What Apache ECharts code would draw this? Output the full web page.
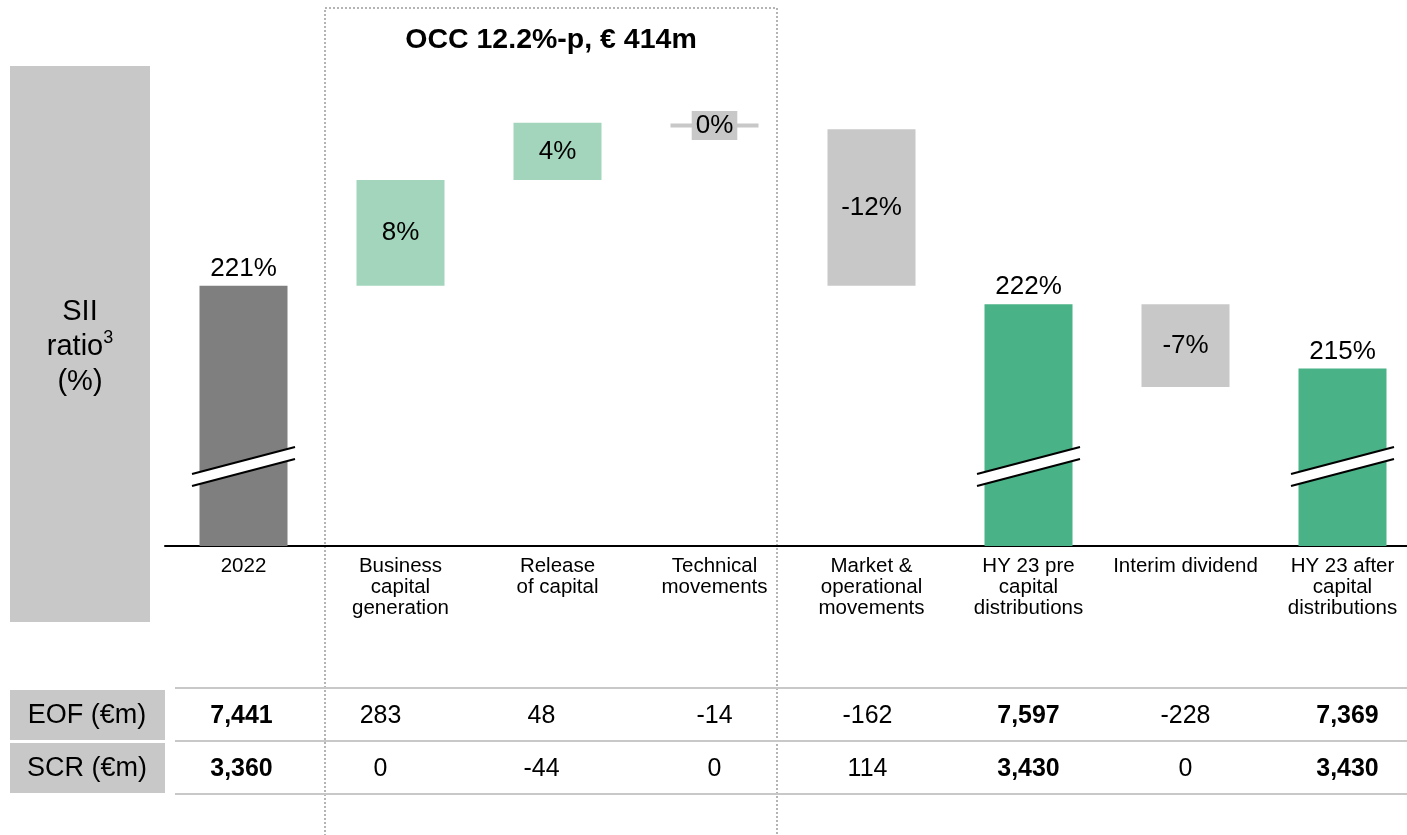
<!DOCTYPE html>
<html><head><meta charset="utf-8">
<script src="https://cdn.jsdelivr.net/npm/echarts@6/dist/echarts.min.js"></script>
<style>html,body{margin:0;padding:0;background:#fff}#c{width:1407px;height:835px}</style>
</head><body><div id="c"></div>
<script>
// ---- data ----
const categories = ['2022','Business\ncapital\ngeneration','Release\nof capital','Technical\nmovements','Market &\noperational\nmovements','HY 23 pre\ncapital\ndistributions','Interim dividend','HY 23 after\ncapital\ndistributions'];
const ratioLabels = ['221%','8%','4%','0%','-12%','222%','-7%','215%'];
// visual levels of each bar on the (broken, not-to-scale) ratio axis
const barBottom = [200, 219.8, 227.85, 231.85, 219.8, 200, 212.1, 200];
const barTop    = [219.8, 227.85, 232.2, 232.15, 231.7, 218.4, 218.4, 213.5];
const barKind   = ['start','up','up','flat','down','total','down','total'];
const eofValues = ['7,441','283','48','-14','-162','7,597','-228','7,369'];
const scrValues = ['3,360','0','-44','0','114','3,430','0','3,430'];
const boldCols = [0,5,7];
const breakLevel = 206.05;
const titleText = 'OCC 12.2%-p, € 414m';

// ---- layout / style ----
const FONT = '"Liberation Sans", Arial, sans-serif';
const kindColor = {start:'#7f7f7f', up:'#a2d5bc', flat:'#c8c8c8', down:'#c8c8c8', total:'#49b286'};
const tableColShift = [-2,-20,-16,0,-4,0,0,5];

const chart = echarts.init(document.getElementById('c'));

const deltaData = barTop.map((t,i) => {
  const k = barKind[i];
  const item = {value: +(t - barBottom[i]).toFixed(3), itemStyle:{color:kindColor[k]}};
  if (k === 'start' || k === 'total') item.label = {position:'top', distance:4};
  else if (k === 'flat') item.label = {position:'inside', backgroundColor:'#c8c8c8', padding:[2,4,1,4]};
  else item.label = {position:'inside'};
  return item;
});

const option = {
  animation:false,
  textStyle:{fontFamily:FONT},
  grid:{left:165, right:-14, top:86, bottom:289, outerBoundsMode:'none', containLabel:false},
  xAxis:{type:'category', data:categories,
    axisLine:{lineStyle:{color:'#000', width:2}}, axisTick:{show:false},
    axisLabel:{interval:0, color:'#000', fontSize:20.5, lineHeight:21, margin:10, fontFamily:FONT}},
  yAxis:{type:'value', min:200, max:235, show:false, splitLine:{show:false}},
  series:[
    {type:'bar', stack:'w', data:barBottom, barWidth:88, itemStyle:{color:'transparent'}, silent:true},
    {type:'bar', stack:'w', data:deltaData, barWidth:88,
      label:{show:true, color:'#000', fontSize:26, fontFamily:FONT,
        formatter:p => ratioLabels[p.dataIndex]}}
  ]
};
chart.setOption(option);

// ---- decorations positioned through the chart's scales ----
const g = [];
g.push({type:'rect', shape:{x:10,y:66,width:140,height:556}, style:{fill:'#c8c8c8'}, z:0});
g.push({type:'text', x:80, y:347, style:{
  text:'{a|SII}\n{a|ratio}{s|3}\n{a|(%)}', fill:'#000', align:'center', verticalAlign:'middle',
  rich:{a:{fontSize:29, fontFamily:FONT, lineHeight:35}, s:{fontSize:18, fontFamily:FONT, lineHeight:35, verticalAlign:'top', padding:[0,0,10,0]}}}});
g.push({type:'rect', shape:{x:325,y:8,width:452,height:840}, style:{fill:'none', stroke:'#b4b4b4', lineWidth:2, lineDash:[2,2]}, z:0});
g.push({type:'text', x:551, y:40, style:{text:titleText, font:'bold 28.5px '+FONT, fill:'#000', align:'center', verticalAlign:'middle'}});

// axis breaks
barKind.forEach((k,i) => {
  if (k !== 'start' && k !== 'total') return;
  const [cx, cy] = chart.convertToPixel({xAxisIndex:0, yAxisIndex:0}, [i, breakLevel]);
  const hw = 51.5, dy = 13.5, gap = 6;
  const p1 = [cx-hw, cy-gap+dy], p2 = [cx+hw, cy-gap-dy], p3 = [cx+hw, cy+gap-dy], p4 = [cx-hw, cy+gap+dy];
  g.push({type:'polygon', shape:{points:[p1,p2,p3,p4]}, style:{fill:'#fff'}, z:10});
  g.push({type:'line', shape:{x1:p1[0],y1:p1[1],x2:p2[0],y2:p2[1]}, style:{stroke:'#000', lineWidth:2}, z:11});
  g.push({type:'line', shape:{x1:p4[0],y1:p4[1],x2:p3[0],y2:p3[1]}, style:{stroke:'#000', lineWidth:2}, z:11});
});

// table
[688, 741, 794].forEach(y => g.push({type:'line', shape:{x1:175,y1:y,x2:1407,y2:y}, style:{stroke:'#c8c8c8', lineWidth:2}}));
g.push({type:'rect', shape:{x:10,y:690,width:155,height:50}, style:{fill:'#c8c8c8'}});
g.push({type:'rect', shape:{x:10,y:743,width:155,height:50}, style:{fill:'#c8c8c8'}});
const tText = (x, y, text, bold, size, sx) => ({type:'text', x:x, y:y, scaleX:sx, z:5,
  style:{text:text, font:(bold?'bold ':'')+size+'px '+FONT, fill:'#000', align:'center', verticalAlign:'middle'}});
g.push(tText(87, 716, 'EOF (€m)', false, 27, 1));
g.push(tText(87, 769, 'SCR (€m)', false, 27, 1));
categories.forEach((c,i) => {
  const [cx] = chart.convertToPixel({xAxisIndex:0, yAxisIndex:0}, [i, 200]);
  const b = boldCols.includes(i);
  g.push(tText(cx + tableColShift[i], 716, eofValues[i], b, 26, 0.96));
  g.push(tText(cx + tableColShift[i], 769, scrValues[i], b, 26, 0.96));
});
chart.setOption({graphic:{elements:g}});
</script>
</body></html>
